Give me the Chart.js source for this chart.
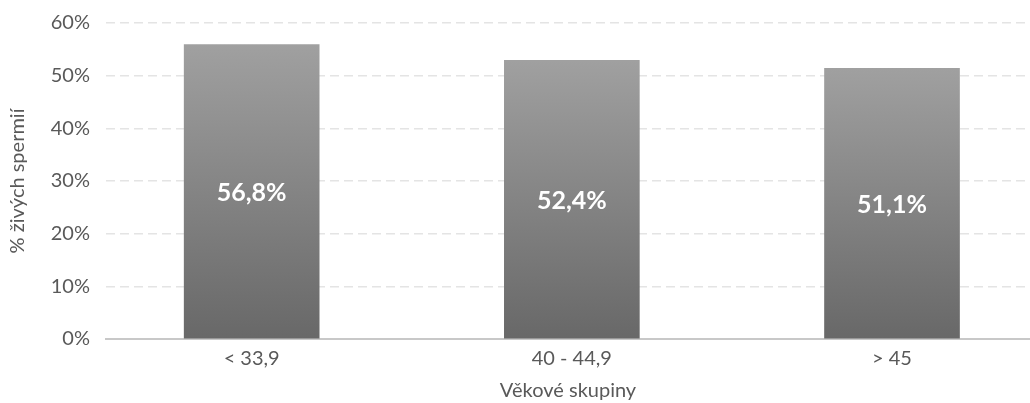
<!DOCTYPE html>
<html>
<head>
<meta charset="utf-8">
<script src="https://cdn.jsdelivr.net/npm/chart.js@4/dist/chart.umd.min.js"></script>
<style>
  html, body { margin: 0; padding: 0; background: #fff; }
  #wrap { width: 1030px; height: 403px; }
</style>
</head>
<body>
<div id="wrap"><canvas id="chart"></canvas></div>
<script>
// Age groups and share of live sperm (bar heights as drawn, printed labels as shown)
const categories = ['< 33,9', '40 - 44,9', '> 45'];
const liveShare = [55.9, 52.9, 51.4];
const valueLabels = ['56,8%', '52,4%', '51,1%'];
const yTicks = [0, 10, 20, 30, 40, 50, 60];

const textColor = '#595959';
Chart.defaults.font.family = "Lato, 'Noto Sans', sans-serif";
Chart.defaults.font.size = 20;
Chart.defaults.color = textColor;

// white value labels in the middle of each bar
const barLabels = {
    id: 'barLabels',
    afterDatasetsDraw(chart) {
        const ctx = chart.ctx;
        const meta = chart.getDatasetMeta(0);
        ctx.save();
        ctx.fillStyle = '#ffffff';
        ctx.font = "bold 25px Lato, sans-serif";
        ctx.textAlign = 'center';
        ctx.textBaseline = 'middle';
        meta.data.forEach((bar, i) => {
            ctx.fillText(valueLabels[i], bar.x, (bar.y + bar.base) / 2 + 2);
        });
        ctx.restore();
    }
};

new Chart(document.getElementById('chart'), {
    type: 'bar',
    data: {
        datasets: [{
            data: liveShare.map((v, i) => ({ x: i, y: v })),
            barThickness: 135,
            borderWidth: 0,
            backgroundColor: (context) => {
                const chart = context.chart;
                const y = chart.scales.y;
                if (!chart.chartArea || !y) return '#888888';
                const v = context.raw ? context.raw.y : 0;
                const g = chart.ctx.createLinearGradient(0, y.getPixelForValue(v), 0, y.getPixelForValue(0));
                g.addColorStop(0, '#a0a0a0');
                g.addColorStop(1, '#686868');
                return g;
            }
        }]
    },
    options: {
        responsive: true,
        maintainAspectRatio: false,
        animation: false,
        layout: { padding: { top: 23, right: 0, left: 0, bottom: 0 } },
        plugins: {
            legend: { display: false },
            tooltip: { enabled: false }
        },
        scales: {
            x: {
                type: 'linear',
                offset: false,
                min: -0.455,
                max: 2.431,
                afterBuildTicks: (scale) => {
                    scale.ticks = categories.map((c, i) => ({ value: i }));
                },
                afterFit: (scale) => {
                    scale.height = 64;
                    scale.paddingLeft = 0;
                    scale.paddingRight = 0;
                },
                ticks: {
                    autoSkip: false,
                    maxRotation: 0,
                    padding: 8,
                    color: textColor,
                    callback: (value) => categories[value]
                },
                grid: { display: false, drawTicks: false },
                border: { display: true, color: '#c8c8c8', width: 2 },
                title: {
                    display: true,
                    text: 'Věkové skupiny',
                    color: textColor,
                    padding: { top: 5, bottom: 0 }
                }
            },
            y: {
                min: 0,
                max: 60,
                afterBuildTicks: (scale) => {
                    scale.ticks = yTicks.map(v => ({ value: v }));
                },
                afterFit: (scale) => {
                    scale.width = 106;
                    scale.paddingTop = 0;
                    scale.paddingBottom = 0;
                },
                ticks: {
                    padding: 16,
                    color: textColor,
                    callback: (value) => value + '%'
                },
                grid: {
                    drawTicks: false,
                    lineWidth: 1.5,
                    color: (ctx) => ctx.tick && ctx.tick.value === 0 ? 'rgba(0,0,0,0)' : '#e4e4e4'
                },
                border: { display: false, dash: [9, 5] },
                title: {
                    display: true,
                    text: '% živých spermií',
                    color: textColor,
                    padding: { top: 6, bottom: 0 }
                }
            }
        }
    },
    plugins: [barLabels]
});
</script>
</body>
</html>
